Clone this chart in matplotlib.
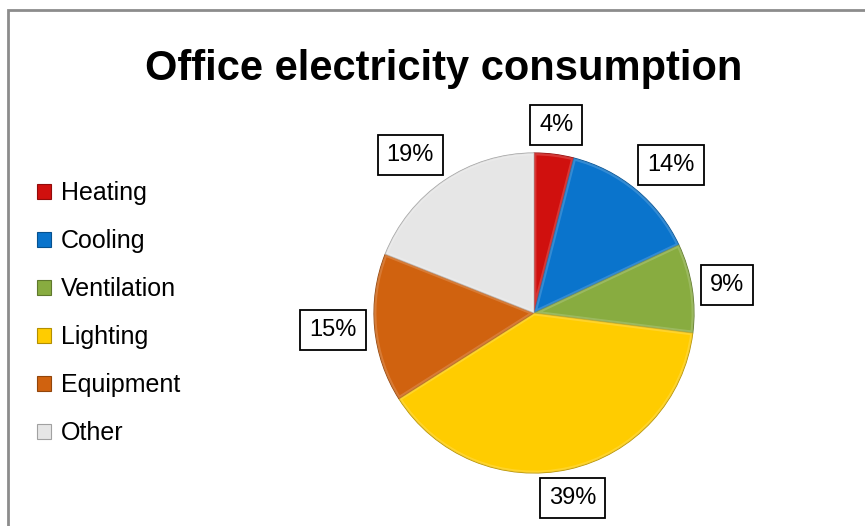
import matplotlib.pyplot as plt
import numpy as np
from matplotlib.colors import to_rgb
from matplotlib.patches import Rectangle, Wedge

categories = ["Heating", "Cooling", "Ventilation", "Lighting", "Equipment", "Other"]
shares = [4, 14, 9, 39, 15, 19]
colors = ["#D0100E", "#0A74CC", "#88AC40", "#FFCC00", "#D0620F", "#E6E6E6"]

plt.rcParams["font.family"] = ["Liberation Sans", "DejaVu Sans"]

W, H = 865, 526
fig = plt.figure(figsize=(W / 100, H / 100), dpi=100)


def mix(c, other, t):
    c = np.array(to_rgb(c))
    o = np.array(to_rgb(other))
    return tuple(c * (1 - t) + o * t)


# chart area frame (open at right and bottom)
fig.patches.append(
    Rectangle((8 / W, -0.1), 1.2, 1.1 - 10 / H, transform=fig.transFigure,
              fill=False, edgecolor="#8C8C8C", linewidth=2)
)

fig.text(444 / W, 1 - 80 / H, "Office electricity consumption",
         ha="center", va="baseline", fontsize=30, fontweight="bold")

# pie axes: centre (534, 313) px, radius 163 px
R = 163
half = 200
ax = fig.add_axes([(534 - half) / W, (H - 313 - half) / H, 2 * half / W, 2 * half / H])
lim = half / R
ax.set_xlim(-lim, lim)
ax.set_ylim(-lim, lim)
ax.set_aspect("equal")
ax.axis("off")

wedges, _ = ax.pie(shares, colors=colors, startangle=90, counterclock=False,
                   radius=1, wedgeprops=dict(linewidth=0))

# bevel-like rim: soft light band inside each wedge, thin dark outline
for w, c in zip(wedges, colors):
    w.set_edgecolor(mix(c, "black", 0.3))
    w.set_linewidth(0.8)
    rim = Wedge(w.center, w.r, w.theta1, w.theta2, fill=False,
                edgecolor=mix(c, "white", 0.3), linewidth=3.5, alpha=0.55)
    ax.add_patch(rim)
    rim.set_clip_path(w)

# percentage labels in boxes just outside the wedges
for w, v in zip(wedges, shares):
    ang = np.deg2rad((w.theta1 + w.theta2) / 2)
    cx, cy = np.cos(ang), np.sin(ang)
    ha = "center" if abs(cx) < 0.3 else ("left" if cx > 0 else "right")
    va = "center" if abs(cy) < 0.3 else ("bottom" if cy > 0 else "top")
    ax.annotate(f"{v}%", xy=(cx, cy), xytext=(18 * cx, 18 * cy),
                textcoords="offset pixels", ha=ha, va=va, fontsize=17,
                annotation_clip=False,
                bbox=dict(boxstyle="square,pad=0.38", fc="white", ec="black", lw=1.3))

handles = [Rectangle((0, 0), 1, 1, facecolor=c, edgecolor=mix(c, "black", 0.3), linewidth=0.8)
           for c in colors]
fig.legend(handles, categories, loc="upper left",
           bbox_to_anchor=(37 / W, 1 - 181 / H), frameon=False, fontsize=18,
           handlelength=0.55, handleheight=0.55, handletextpad=0.4,
           labelspacing=0.96, borderpad=0, borderaxespad=0)

fig.savefig("out.png", dpi=100, facecolor="white")
